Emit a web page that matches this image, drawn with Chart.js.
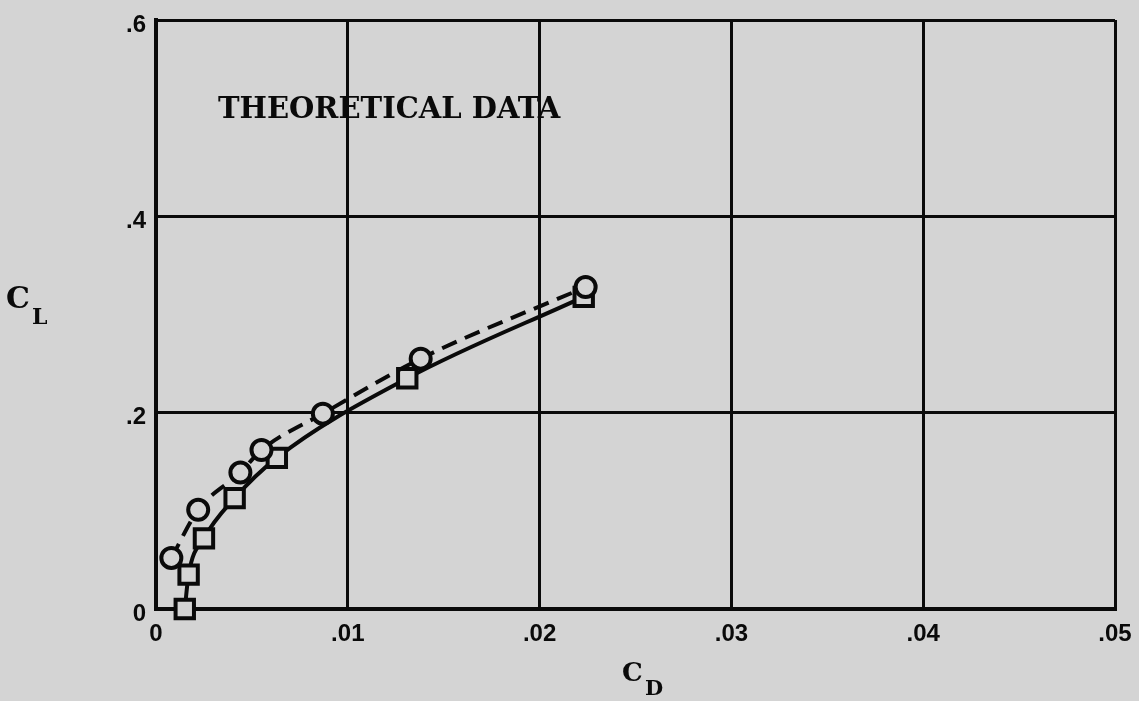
<!DOCTYPE html>
<html>
<head>
<meta charset="utf-8">
<script src="https://cdn.jsdelivr.net/npm/chart.js@4"></script>
<style>
  html, body { margin: 0; padding: 0; background: #d4d4d4; }
  #wrap { width: 1139px; height: 701px; position: relative; }
</style>
</head>
<body>
<div id="wrap"><canvas id="chart"></canvas></div>
<script>
// --- Daten ---
const titleText = "THEORETICAL DATA";
const xTicks = [0, 0.01, 0.02, 0.03, 0.04, 0.05];
const yTicks = [0, 0.2, 0.4, 0.6];

// circles, dashed curve
const circleCd = [0.0008, 0.0022, 0.0044, 0.0055, 0.0087, 0.0138, 0.0224];
const circleCl = [0.052, 0.101, 0.139, 0.162, 0.199, 0.255, 0.328];

// squares, solid curve
const squareCd = [0.0015, 0.0017, 0.0025, 0.0041, 0.0063, 0.0131, 0.0223];
const squareCl = [0.0, 0.035, 0.072, 0.113, 0.154, 0.235, 0.318];

const paper = "#d4d4d4";
const ink = "#0a0a0a";

function fmtTick(v) {
    if (Math.abs(v) < 1e-9) return "0";
    return "." + v.toFixed(v < 0.1 ? 2 : 1).split(".")[1];
}

// --- Beschriftung ---
const textPlugin = {
    id: "texte",
    afterDraw(chart) {
        const ctx = chart.ctx;
        const a = chart.chartArea;
        ctx.save();
        ctx.fillStyle = ink;
        ctx.textBaseline = "middle";
        ctx.textAlign = "left";

        ctx.font = "bold 29px 'DejaVu Serif'";
        ctx.fillText(titleText, a.left + 62, a.top + 90);

        // C_L
        ctx.font = "bold 30px 'DejaVu Serif'";
        ctx.fillText("C", 6, 300);
        ctx.font = "bold 22px 'DejaVu Serif'";
        ctx.fillText("L", 32, 318);

        // C_D
        ctx.font = "bold 26px 'DejaVu Serif'";
        ctx.fillText("C", 622, 674);
        ctx.font = "bold 21px 'DejaVu Serif'";
        ctx.fillText("D", 645, 690);
        ctx.restore();
    },
};

const ctx = document.getElementById("chart").getContext("2d");

const chart = new Chart(ctx, {
    type: "scatter",
    data: {
        datasets: [
            {
                label: "circles",
                data: circleCd.map((x, i) => ({ x: x, y: circleCl[i] })),
                showLine: true,
                borderColor: ink,
                borderWidth: 4,
                borderDash: [16, 9],
                cubicInterpolationMode: "monotone",
                pointStyle: "circle",
                pointRadius: 10,
                pointBorderWidth: 4,
                pointBackgroundColor: paper,
                pointBorderColor: ink,
                clip: false,
            },
            {
                label: "squares",
                data: squareCd.map((x, i) => ({ x: x, y: squareCl[i] })),
                showLine: true,
                borderColor: ink,
                borderWidth: 4,
                cubicInterpolationMode: "monotone",
                pointStyle: "rect",
                pointRadius: 13,
                pointBorderWidth: 4,
                pointBackgroundColor: paper,
                pointBorderColor: ink,
                clip: false,
            },
        ],
    },
    options: {
        responsive: true,
        maintainAspectRatio: false,
        animation: false,
        layout: { padding: { left: 0, top: 20, right: 24, bottom: 0 } },
        plugins: {
            legend: { display: false },
            tooltip: { enabled: false },
        },
        scales: {
            x: {
                type: "linear",
                min: 0,
                max: 0.05,
                afterBuildTicks: (s) => { s.ticks = xTicks.map((v) => ({ value: v })); },
                afterFit: (s) => {
                    s.height = 92;
                    s.paddingLeft = 0;
                    s.paddingRight = 0;
                },
                grid: { color: ink, lineWidth: 3, drawTicks: false },
                border: { display: true, color: ink, width: 4 },
                ticks: {
                    callback: (v) => fmtTick(v),
                    color: ink,
                    padding: 11,
                    maxRotation: 0,
                    font: { family: "'Liberation Sans'", weight: "bold", size: 24 },
                },
            },
            y: {
                type: "linear",
                min: 0,
                max: 0.6,
                afterBuildTicks: (s) => { s.ticks = yTicks.map((v) => ({ value: v })); },
                afterFit: (s) => {
                    s.width = 156;
                    s.paddingTop = 0;
                    s.paddingBottom = 0;
                },
                grid: { color: ink, lineWidth: 3, drawTicks: false },
                border: { display: true, color: ink, width: 4 },
                ticks: {
                    callback: (v) => fmtTick(v),
                    color: ink,
                    padding: 10,
                    labelOffset: 5,
                    font: { family: "'Liberation Sans'", weight: "bold", size: 24 },
                },
            },
        },
    },
    plugins: [textPlugin],
});
</script>
</body>
</html>
